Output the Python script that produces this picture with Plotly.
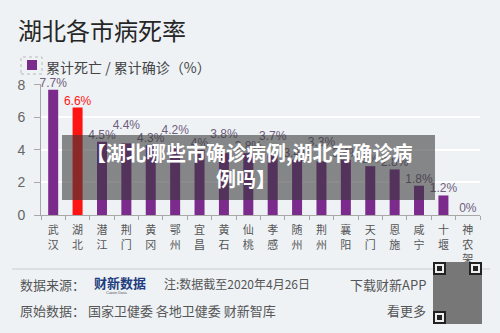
import plotly.graph_objects as go

cities = ["武汉", "湖北", "潜江", "荆门", "黄冈", "鄂州", "宜昌", "黄石", "仙桃",
          "孝感", "随州", "荆州", "襄阳", "天门", "恩施", "咸宁", "十堰", "神农架"]
death_rate = [7.7, 6.6, 4.5, 4.4, 4.3, 4.2, 4.0, 3.8, 3.8,
              3.7, 3.4, 3.3, 3.4, 3.0, 2.8, 1.8, 1.2, 0.0]
y_ticks = [0, 2, 4, 6, 8]

title_text = "湖北各市病死率"
legend_text = "累计死亡 / 累计确诊（%）"
banner_line1 = "【湖北哪些市确诊病例,湖北有确诊病"
banner_line2 = "例吗】"

# label stagger (style only): extra lift of value labels, in pixels
label_lift_px = [0, 0, 0, 11, 0, 10, 0, 12, 0, 12, 0, 12, 0, 0, 0, 0, 0, 0]

BG = "#eef2f5"
PURPLE = "#7b2b8c"
RED = "#ff1414"
CJK = "Noto Sans CJK SC"

# plot box in pixels
L, R, T, B = 41, 20, 84, 118
W, H = 500, 333
PW, PH = W - L - R, H - T - B
Y_MAX = 8.05
UNIT_PX = PH / Y_MAX


def px(x):
    return (x - L) / PW


def py(y):
    return (H - B - y) / PH


colors = [RED if c == "湖北" else PURPLE for c in cities]
label_colors = [RED if c == "湖北" else "#6e5d7c" for c in cities]

fig = go.Figure()
fig.add_trace(go.Bar(
    x=cities, y=death_rate,
    marker=dict(color=colors, line=dict(width=0)),
    hoverinfo="skip",
))
fig.add_trace(go.Scatter(
    x=cities,
    y=[v + lift / UNIT_PX for v, lift in zip(death_rate, label_lift_px)],
    mode="text",
    text=[f"{v:g}%" for v in death_rate],
    textposition="top center",
    textfont=dict(color=label_colors, size=12, family="Liberation Sans, Arial"),
    cliponaxis=False,
    hoverinfo="skip",
))

shapes = []
annotations = []

# banner overlay
shapes.append(dict(type="rect", xref="paper", yref="paper",
                   x0=px(62), x1=px(435), y0=py(200), y1=py(135),
                   fillcolor="rgba(55,55,55,0.58)", line=dict(width=0), layer="above"))
annotations.append(dict(xref="paper", yref="paper", x=px(249), y=py(152),
                        text="<b>" + banner_line1 + "</b>", showarrow=False,
                        font=dict(family=CJK, size=20, color="white"),
                        xanchor="center", yanchor="middle"))
annotations.append(dict(xref="paper", yref="paper", x=px(246), y=py(178),
                        text="<b>" + banner_line2 + "</b>", showarrow=False,
                        font=dict(family=CJK, size=20, color="white"),
                        xanchor="center", yanchor="middle"))

# title
annotations.append(dict(xref="paper", yref="paper", x=px(16), y=py(29),
                        text=title_text, showarrow=False,
                        font=dict(family=CJK, size=24, color="#262626"),
                        xanchor="left", yanchor="middle"))
# legend
shapes.append(dict(type="rect", xref="paper", yref="paper",
                   x0=px(21), x1=px(42), y0=py(74), y1=py(57),
                   line=dict(color="#b8b8b8", width=1, dash="dot"), fillcolor="rgba(0,0,0,0)"))
shapes.append(dict(type="rect", xref="paper", yref="paper",
                   x0=px(27), x1=px(37), y0=py(70), y1=py(60),
                   fillcolor=PURPLE, line=dict(width=0)))
annotations.append(dict(xref="paper", yref="paper", x=px(44), y=py(67),
                        text=legend_text, showarrow=False,
                        font=dict(family=CJK, size=14, color="#444"),
                        xanchor="left", yanchor="middle"))

# footer
shapes.append(dict(type="line", xref="paper", yref="paper",
                   x0=px(12), x1=px(490), y0=py(269), y1=py(269),
                   line=dict(color="#c8cdd2", width=1)))
foot_font = dict(family=CJK, size=13, color="#555")
annotations += [
    dict(xref="paper", yref="paper", x=px(18), y=py(284), text="数据来源：",
         showarrow=False, font=foot_font, xanchor="left", yanchor="middle"),
    dict(xref="paper", yref="paper", x=px(92), y=py(282), text="<b>财新数据</b>",
         showarrow=False, font=dict(family=CJK, size=13, color="#1f3d7f"),
         xanchor="left", yanchor="middle"),
    dict(xref="paper", yref="paper", x=px(116), y=py(292), text="Caixin Data",
         showarrow=False, font=dict(family="Liberation Sans", size=4, color="#555"),
         xanchor="center", yanchor="middle"),
    dict(xref="paper", yref="paper", x=px(162), y=py(283), text="注:数据截至2020年4月26日",
         showarrow=False, font=dict(family=CJK, size=12, color="#555"),
         xanchor="left", yanchor="middle"),
    dict(xref="paper", yref="paper", x=px(428), y=py(284), text="下载财新APP",
         showarrow=False, font=foot_font, xanchor="right", yanchor="middle"),
    dict(xref="paper", yref="paper", x=px(18), y=py(310),
         text="原始数据： 国家卫健委 各地卫健委 财新智库",
         showarrow=False, font=foot_font, xanchor="left", yanchor="middle"),
    dict(xref="paper", yref="paper", x=px(428), y=py(310), text="看更多",
         showarrow=False, font=foot_font, xanchor="right", yanchor="middle"),
]

# QR code (decorative)
qx0, qy0, qx1, qy1 = 433, 262, 482, 324
shapes.append(dict(type="rect", xref="paper", yref="paper",
                   x0=px(qx0), x1=px(qx1), y0=py(qy1), y1=py(qy0),
                   fillcolor="#777777", line=dict(width=0)))
for fx, fy in [(qx0, qy0), (qx1 - 13, qy0), (qx0, qy1 - 13)]:
    shapes.append(dict(type="rect", xref="paper", yref="paper",
                       x0=px(fx), x1=px(fx + 13), y0=py(fy + 13), y1=py(fy),
                       fillcolor="#222", line=dict(width=0)))
    shapes.append(dict(type="rect", xref="paper", yref="paper",
                       x0=px(fx + 2), x1=px(fx + 11), y0=py(fy + 11), y1=py(fy + 2),
                       fillcolor="#eee", line=dict(width=0)))
    shapes.append(dict(type="rect", xref="paper", yref="paper",
                       x0=px(fx + 4), x1=px(fx + 9), y0=py(fy + 9), y1=py(fy + 4),
                       fillcolor="#222", line=dict(width=0)))

fig.update_layout(
    width=W, height=H,
    margin=dict(l=L, r=R, t=T, b=B, pad=0),
    paper_bgcolor=BG, plot_bgcolor=BG,
    showlegend=False,
    bargap=0.59,
    shapes=shapes,
    annotations=annotations,
    font=dict(family=CJK, color="#555"),
)
fig.update_xaxes(
    type="category",
    range=[-0.5, len(cities) - 0.5],
    tickvals=cities,
    ticktext=["<br>".join(list(c)) for c in cities],
    tickfont=dict(family=CJK, size=11, color="#555"),
    ticks="outside", tickson="boundaries", ticklen=4, tickcolor="#a8a8a8",
    ticklabelstandoff=5,
    showline=True, linecolor="#a8a8a8", linewidth=1,
    showgrid=False, zeroline=False,
)
fig.update_yaxes(
    range=[0, Y_MAX],
    tickvals=y_ticks,
    tickfont=dict(family="Liberation Sans, Arial", size=14, color="#666"),
    ticks="outside", ticklen=6, tickcolor="#a8a8a8",
    ticklabelstandoff=6,
    showline=True, linecolor="#a8a8a8", linewidth=1,
    showgrid=True, gridcolor="white", gridwidth=2,
    zeroline=False,
)

fig.write_html("out.html")
